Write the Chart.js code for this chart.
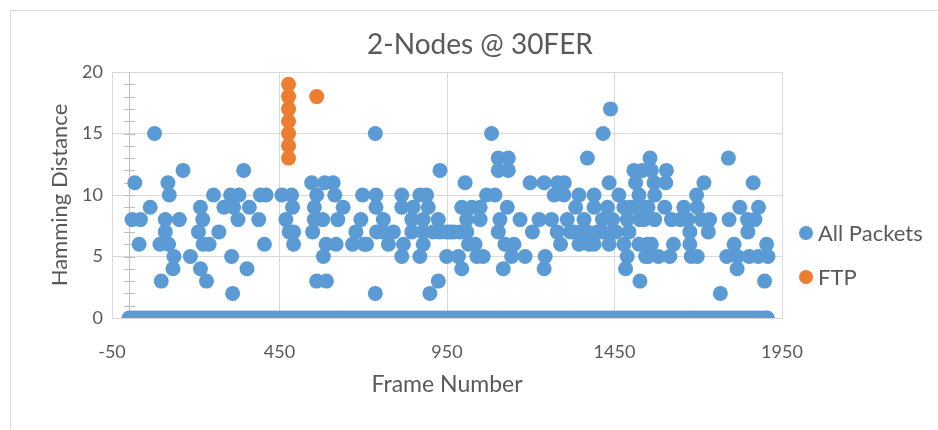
<!DOCTYPE html>
<html>
<head>
<meta charset="utf-8">
<script src="https://cdn.jsdelivr.net/npm/chart.js@4.4.1/dist/chart.umd.min.js"></script>
<style>
  html, body { margin: 0; padding: 0; background: #ffffff; overflow: hidden; }
  #wrap { position: relative; width: 938px; height: 430px; }
</style>
</head>
<body>
<div id="wrap"><canvas id="chart" width="938" height="430"></canvas></div>
<script>
// Frames with a non-zero Hamming distance (all packets)
const packetFrames = [
  10, 18, 31, 35, 64, 77, 93, 97, 109, 109, 117, 119, 121, 132, 135, 151, 162, 184, 208, 214,
  214, 221, 222, 232, 240, 253, 269, 284, 304, 307, 310, 313, 326, 329, 343, 353, 360,
  388, 393, 405, 410, 457, 469, 479, 486, 489, 492, 492, 546, 549, 554, 554, 561, 561,
  579, 581, 585, 589, 590, 610, 615, 619, 624, 640, 668, 678, 693, 698, 703, 710, 736, 736, 738, 738, 740,
  760, 760, 775, 790, 815, 815, 815, 820, 845, 845, 849, 869, 869, 879, 879, 879, 889, 894, 899,
  909, 924, 924, 929, 929, 949, 949, 959, 969, 984, 989, 994, 994, 1004, 1009, 1009, 1014, 1024,
  1034, 1039, 1049, 1049, 1058, 1068, 1083, 1093, 1103, 1103, 1103, 1108, 1118, 1123, 1130, 1133, 1133,
  1143, 1150, 1168, 1183, 1198, 1205, 1225, 1240, 1240, 1243, 1262, 1270, 1279, 1280, 1289, 1299, 1300,
  1309, 1319, 1329, 1334, 1344, 1344, 1349, 1359, 1369, 1369, 1374, 1389, 1389, 1389, 1399, 1414, 1414,
  1416, 1429, 1434, 1434, 1438, 1444, 1446, 1454, 1463, 1478, 1478, 1483, 1488, 1488, 1493, 1498,
  1508, 1508, 1513, 1523, 1523, 1526, 1526, 1533, 1538, 1543, 1543, 1548,
  1550, 1550, 1556, 1560, 1560, 1568, 1570, 1570, 1581, 1600, 1603, 1605, 1615, 1620, 1626, 1646,
  1657, 1669, 1675, 1675, 1679, 1695, 1697, 1697, 1709, 1717, 1730, 1734, 1766, 1785, 1790, 1792,
  1807, 1816, 1817, 1824, 1847, 1848, 1852, 1864, 1869, 1879, 1880, 1898, 1904, 1908
];
const packetDistances = [
  8, 11, 6, 8, 9, 15, 6, 3, 8, 7, 11, 6, 10, 4, 5, 8, 12, 5, 7, 9,
  4, 8, 6, 3, 6, 10, 7, 9, 10, 5, 2, 9, 8, 10, 12, 4, 9,
  8, 10, 6, 10, 10, 8, 7, 10, 9, 7, 6, 11, 7, 9, 8, 10, 3,
  8, 5, 11, 6, 3, 11, 10, 6, 8, 9, 6, 7, 8, 10, 6, 6, 15, 2, 10, 9, 7,
  8, 7, 6, 7, 10, 9, 5, 6, 8, 7, 9, 10, 5, 8, 7, 6, 10, 9, 2,
  7, 8, 3, 12, 7, 7, 5, 7, 7, 5, 7, 9, 4, 11, 8, 7, 6, 9,
  6, 5, 9, 8, 5, 10, 15, 10, 13, 12, 7, 8, 4, 6, 9, 13, 12,
  5, 6, 8, 5, 11, 7, 8, 11, 4, 5, 8, 10, 7, 11, 6, 10, 11,
  8, 7, 7, 9, 10, 6, 7, 8, 13, 7, 6, 10, 9, 6, 7, 8, 7,
  15, 9, 11, 6, 17, 8, 7, 7, 10, 9, 6, 4, 8, 5, 7, 9,
  12, 9, 11, 10, 6, 3, 8, 12, 8, 9, 5, 6,
  9, 5, 13, 12, 6, 11, 10, 8, 5, 9, 11, 12, 5, 8, 6, 8,
  9, 8, 7, 6, 5, 10, 5, 9, 8, 11, 7, 8, 2, 5, 13, 8,
  6, 4, 5, 9, 8, 7, 5, 11, 8, 5, 9, 3, 6, 5
];
// Frames that arrived with a Hamming distance of 0
const zeroFrames = [
  1, 11, 20, 30, 41, 50, 60, 71, 80, 90, 101, 110, 121, 130, 140, 151, 160, 170, 181, 190,
  200, 211, 220, 231, 240, 250, 261, 270, 280, 291, 300, 310, 321, 330, 341, 350, 360, 371, 380, 390,
  401, 410, 420, 431, 440, 451, 460, 470, 481, 490, 500, 511, 520, 530, 541, 550, 561, 570, 580, 591,
  600, 610, 621, 630, 640, 651, 660, 671, 680, 690, 701, 710, 720, 731, 740, 750, 761, 770, 781, 790,
  800, 811, 820, 830, 841, 850, 860, 871, 880, 891, 900, 910, 921, 930, 940, 951, 960, 970, 981, 990,
  1001, 1010, 1020, 1031, 1040, 1050, 1061, 1070, 1080, 1091, 1100, 1111, 1120, 1130, 1141, 1150, 1160, 1171, 1180, 1190,
  1201, 1210, 1221, 1230, 1240, 1251, 1260, 1270, 1281, 1290, 1300, 1311, 1320, 1331, 1340, 1350, 1361, 1370, 1380, 1391,
  1400, 1410, 1421, 1430, 1441, 1450, 1460, 1471, 1480, 1490, 1501, 1510, 1520, 1531, 1540, 1551, 1560, 1570, 1581, 1590,
  1600, 1611, 1620, 1630, 1641, 1650, 1661, 1670, 1680, 1691, 1700, 1710, 1721, 1730, 1740, 1751, 1760, 1771, 1780, 1790,
  1801, 1810, 1820, 1831, 1840, 1850, 1861, 1870, 1880, 1891, 1900, 1906
];
// FTP frames
const ftpFrames = [477, 477, 477, 477, 477, 477, 477, 561];
const ftpDistances = [19, 18, 17, 16, 15, 14, 13, 18];

const seriesNames = ['All Packets', 'FTP'];
const xTickValues = [-50, 450, 950, 1450, 1950];
const yTickValues = [0, 5, 10, 15, 20];
const chartTitle = '2-Nodes @ 30FER';
const xTitle = 'Frame Number';
const yTitle = 'Hamming Distance';

const FONT = 'Lato, "Open Sans", "DejaVu Sans", sans-serif';
const TEXT = '#595959';
const GRID = '#d9d9d9';
const BLUE = '#5B9BD5';
const ORANGE = '#ED7D31';

const packetPoints = packetFrames.map((f, i) => ({ x: f, y: packetDistances[i] }))
  .concat(zeroFrames.map(f => ({ x: f, y: 0 })));
const ftpPoints = ftpFrames.map((f, i) => ({ x: f, y: ftpDistances[i] }));

// Frame border, vertical axis at frame 0 with minor cross ticks, title and legend
const decorations = {
  id: 'decorations',
  beforeDraw(chart) {
    const ctx = chart.ctx;
    ctx.save();
    ctx.fillStyle = '#ffffff';
    ctx.fillRect(0, 0, chart.width, chart.height);
    ctx.strokeStyle = GRID;
    ctx.lineWidth = 1;
    ctx.strokeRect(10.5, 10.5, 2000, 2000);
    ctx.restore();
  },
  beforeDatasetsDraw(chart) {
    const { ctx, scales: { x, y } } = chart;
    const px = Math.round(x.getPixelForValue(0)) + 0.5;
    ctx.save();
    ctx.strokeStyle = '#bfbfbf';
    ctx.lineWidth = 1;
    ctx.beginPath();
    ctx.moveTo(px, y.getPixelForValue(20));
    ctx.lineTo(px, y.getPixelForValue(0));
    for (let v = 1; v < 20; v++) {
      const py = Math.round(y.getPixelForValue(v)) + 0.5;
      ctx.moveTo(px - 5.5, py);
      ctx.lineTo(px + 5.5, py);
    }
    ctx.stroke();
    ctx.restore();
  },
  afterDraw(chart) {
    const ctx = chart.ctx;
    ctx.save();
    ctx.fillStyle = TEXT;
    ctx.font = '28px ' + FONT;
    ctx.textAlign = 'center';
    ctx.textBaseline = 'middle';
    ctx.fillText(chartTitle, 480, 45);

    ctx.font = '22px ' + FONT;
    ctx.textAlign = 'left';
    const rows = [233, 277];
    chart.data.datasets.forEach((ds, i) => {
      ctx.fillStyle = ds.backgroundColor;
      ctx.beginPath();
      ctx.arc(806, rows[i], 7, 0, Math.PI * 2);
      ctx.fill();
      ctx.fillStyle = TEXT;
      ctx.fillText(ds.label, 818, rows[i] + 1);
    });
    ctx.restore();
  }
};

new Chart(document.getElementById('chart'), {
  type: 'scatter',
  data: {
    datasets: [
      { label: seriesNames[0], data: packetPoints, backgroundColor: BLUE, borderWidth: 0,
        pointRadius: 7.5, pointHoverRadius: 7.5, order: 1 },
      { label: seriesNames[1], data: ftpPoints, backgroundColor: ORANGE, borderWidth: 0,
        pointRadius: 7.5, pointHoverRadius: 7.5, order: 0 }
    ]
  },
  options: {
    responsive: false,
    animation: false,
    events: [],
    layout: { padding: { left: 0, top: 72, right: 156, bottom: 0 } },
    plugins: {
      legend: { display: false },
      title: { display: false },
      tooltip: { enabled: false }
    },
    scales: {
      x: {
        type: 'linear',
        min: -50,
        max: 1950,
        afterBuildTicks: s => { s.ticks = xTickValues.map(v => ({ value: v })); },
        afterFit: s => { s.height = 112; },
        grid: { color: GRID, lineWidth: 1, drawTicks: false },
        border: { color: GRID },
        ticks: { color: TEXT, font: { family: FONT, size: 18 }, padding: 23, callback: v => String(v) },
        title: { display: true, text: xTitle, color: TEXT, font: { family: FONT, size: 23 }, padding: { top: 0, bottom: 32 } }
      },
      y: {
        type: 'linear',
        min: 0,
        max: 20,
        afterBuildTicks: s => { s.ticks = yTickValues.map(v => ({ value: v })); },
        afterFit: s => { s.width = 112; },
        grid: { color: GRID, lineWidth: 1, drawTicks: false },
        border: { color: GRID },
        ticks: { color: TEXT, font: { family: FONT, size: 18 }, padding: 9, callback: v => String(v) },
        title: { display: true, text: yTitle, color: TEXT, font: { family: FONT, size: 22 }, padding: { top: 47, bottom: 0 } }
      }
    }
  },
  plugins: [decorations]
});
</script>
</body>
</html>
